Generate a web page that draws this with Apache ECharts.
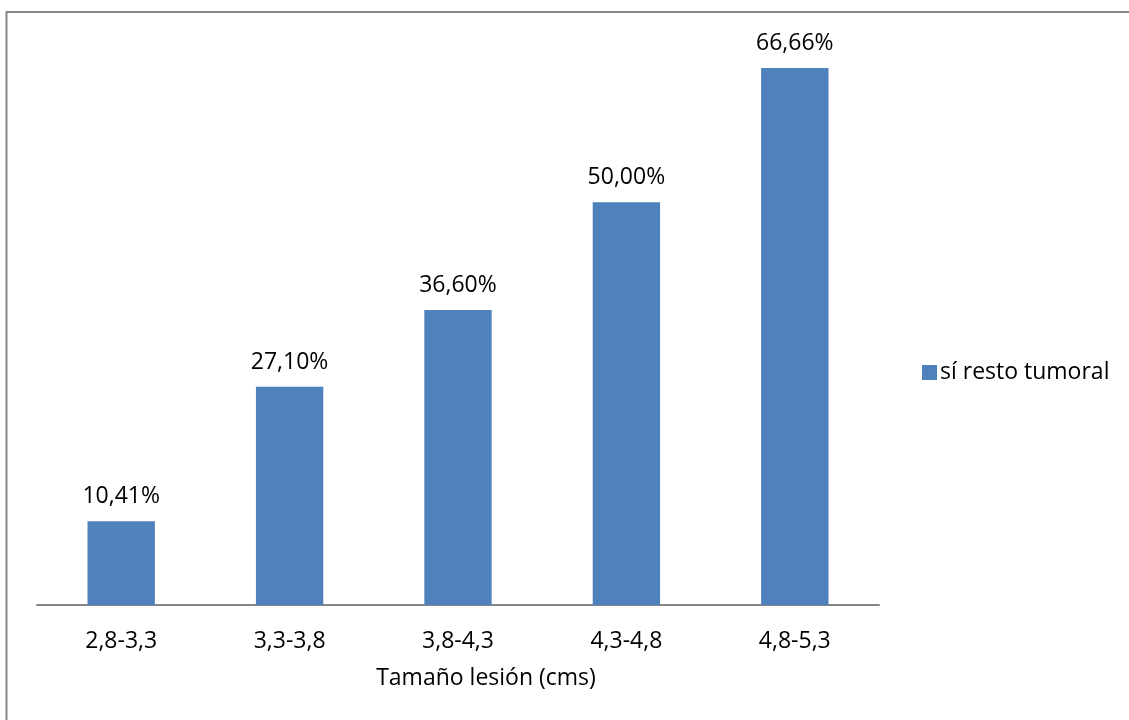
<!DOCTYPE html>
<html>
<head>
<meta charset="utf-8">
<script src="https://cdn.jsdelivr.net/npm/echarts@6/dist/echarts.min.js"></script>
<style>
  html, body { margin: 0; padding: 0; background: #fff; }
  #chart { width: 1129px; height: 720px; }
</style>
</head>
<body>
<div id="chart"></div>
<script>
// Lesion size ranges (cm) and share of cases with residual tumour (%)
const categories = ['2,8-3,3', '3,3-3,8', '3,8-4,3', '4,3-4,8', '4,8-5,3'];
const seriesName = 'sí resto tumoral';
const values = [10.41, 27.10, 36.60, 50.00, 66.66];
const axisTitle = 'Tamaño lesión (cms)';

const font = '"Open Sans", "Noto Sans", sans-serif';
const fs = 23;
const chart = echarts.init(document.getElementById('chart'), null, { renderer: 'canvas' });

chart.setOption({
  animation: false,
  textStyle: { fontFamily: font },
  graphic: [{
    type: 'rect',
    shape: { x: 6.5, y: 12, width: 1140, height: 720 },
    style: { fill: 'none', stroke: '#878787', lineWidth: 2 },
    silent: true
  }],
  legend: {
    data: [seriesName],
    left: 917,
    top: 356,
    orient: 'vertical',
    itemWidth: 15,
    itemHeight: 15,
    itemGap: 6,
    icon: 'rect',
    textStyle: { fontFamily: font, fontSize: fs, color: '#000', padding: [0, 0, 0, -2] }
  },
  grid: { left: 37, right: 250, top: 41, bottom: 115, containLabel: false },
  xAxis: {
    type: 'category',
    data: categories,
    name: axisTitle,
    nameLocation: 'middle',
    nameGap: 62,
    nameTextStyle: { fontFamily: font, fontSize: fs, color: '#000', padding: [0, 0, 0, 56] },
    axisLine: { lineStyle: { color: '#868686', width: 2 } },
    axisTick: { show: false },
    axisLabel: { fontFamily: font, fontSize: fs, color: '#000', margin: 25 }
  },
  yAxis: {
    type: 'value',
    min: 0,
    max: 70,
    interval: 10,
    show: false,
    splitLine: { show: false }
  },
  series: [{
    name: seriesName,
    type: 'bar',
    data: values,
    barCategoryGap: '60%',
    itemStyle: { color: '#4F81BD' },
    label: {
      show: true,
      position: 'top',
      distance: 13,
      fontFamily: font,
      fontSize: fs,
      color: '#000',
      formatter: p => p.value.toFixed(2).replace('.', ',') + '%'
    }
  }]
});
</script>
</body>
</html>
